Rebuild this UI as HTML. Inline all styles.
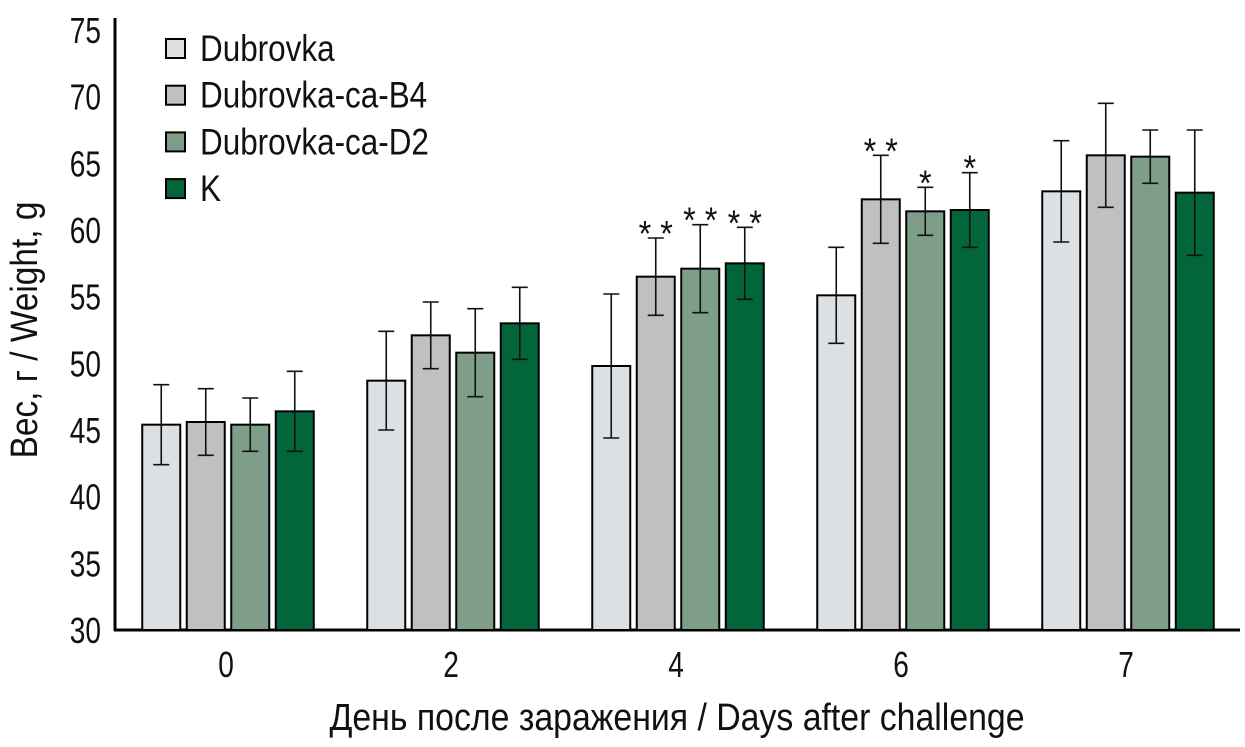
<!DOCTYPE html>
<html><head><meta charset="utf-8"><style>
html,body{margin:0;padding:0;background:#fff;}
svg text{font-family:"Liberation Sans",sans-serif;fill:#111;}
</style></head><body>
<svg id="chart" width="1245" height="742" xmlns="http://www.w3.org/2000/svg"></svg>
<script>
const categories=["0","2","4","6","7"];
const seriesNames=["Dubrovka","Dubrovka-ca-B4","Dubrovka-ca-D2","K"];
const seriesColors=["#dde0e3","#c0c0c0","#7f9e8a","#03653a"];
const dubrovka=[45.4,48.7,49.8,55.1,62.9];
const dubrovkaB4=[45.6,52.1,56.5,62.3,65.6];
const dubrovkaD2=[45.4,50.8,57.1,61.4,65.5];
const kControl=[46.4,53.0,57.5,61.5,62.8];
const errD=[3.0,3.7,5.4,3.6,3.8];
const errB4=[2.5,2.5,2.9,3.3,3.9];
const errD2=[2.0,3.3,3.3,1.8,2.0];
const errK=[3.0,2.7,2.7,2.8,4.7];
const stars=[["","","",""],["","","",""],["","**","**","**"],["","**","*","*"],["","","",""]];
const yTicks=[30,35,40,45,50,55,60,65,70,75];
const values=[dubrovka,dubrovkaB4,dubrovkaD2,kControl];
const errs=[errD,errB4,errD2,errK];
const NS="http://www.w3.org/2000/svg";
const svg=document.getElementById("chart");
function mk(tag,attrs,parent){const e=document.createElementNS(NS,tag);for(const k in attrs)e.setAttribute(k,attrs[k]);(parent||svg).appendChild(e);return e;}
function txt(x,y,s,size,anchor,sx,parent,rot){
  const t=mk("text",{x:0,y:0,"text-anchor":anchor,"font-size":size,transform:`translate(${x},${y})${rot?" rotate(-90)":""} scale(${sx},1)`},parent);
  t.textContent=s;return t;
}
const y0=630,yMin=30,yMax=75,pxPer=(630-30)/(yMax-yMin);
function yS(v){return y0-(v-yMin)*pxPer;}
const groupCenters0=228,groupStep=225;
function xG(i){return groupCenters0+i*groupStep;}
const barW=38,barStep=44.5;
let ax=mk("line",{x1:115,y1:18,x2:115,y2:631,stroke:"#000","stroke-width":3});


let axx=mk("line",{x1:114,y1:630,x2:1240,y2:630,stroke:"#000","stroke-width":3});


yTicks.forEach(t=>{
  const tl=txt(101,yS(t)+13,String(t),36,"end",0.78);
  
  
});
categories.forEach((c,i)=>{
  const tl=txt(xG(i)-2,677,c,36,"middle",0.78);
  
  
  values.forEach((s,j)=>{
    const cx=xG(i)+(j-1.5)*barStep;
    const top=yS(s[i]);
    const r=mk("rect",{x:cx-barW/2,y:top,width:barW,height:y0-top,fill:seriesColors[j],stroke:"#000","stroke-width":2});
    
    
    const e=errs[j][i],yt=yS(s[i]+e),yb=yS(s[i]-e);
    const eb=mk("path",{d:`M${cx},${yt}V${yb}M${cx-8},${yt}H${cx+8}M${cx-8},${yb}H${cx+8}`,stroke:"#111","stroke-width":1.6,fill:"none"});
    
    
    if(stars[i][j]){
      const st=txt(cx,yt+8,stars[i][j].split("").join(" "),36,"middle",0.9);
      
      
    }
  });
});
const xt=txt(677,730,"День после заражения / Days after challenge",38,"middle",0.89);


const yt=txt(37,330,"Вес, г / Weight, g",38,"middle",0.88,null,true);


seriesNames.forEach((n,j)=>{
  const ly=48+j*46.7;
  const g=mk("g",{});
  
  
  mk("rect",{x:166,y:ly-9,width:19,height:19,fill:seriesColors[j],stroke:"#000","stroke-width":2},g);
  txt(200,ly+13,n,37,"start",0.85,g);
});
</script>
</body></html>
